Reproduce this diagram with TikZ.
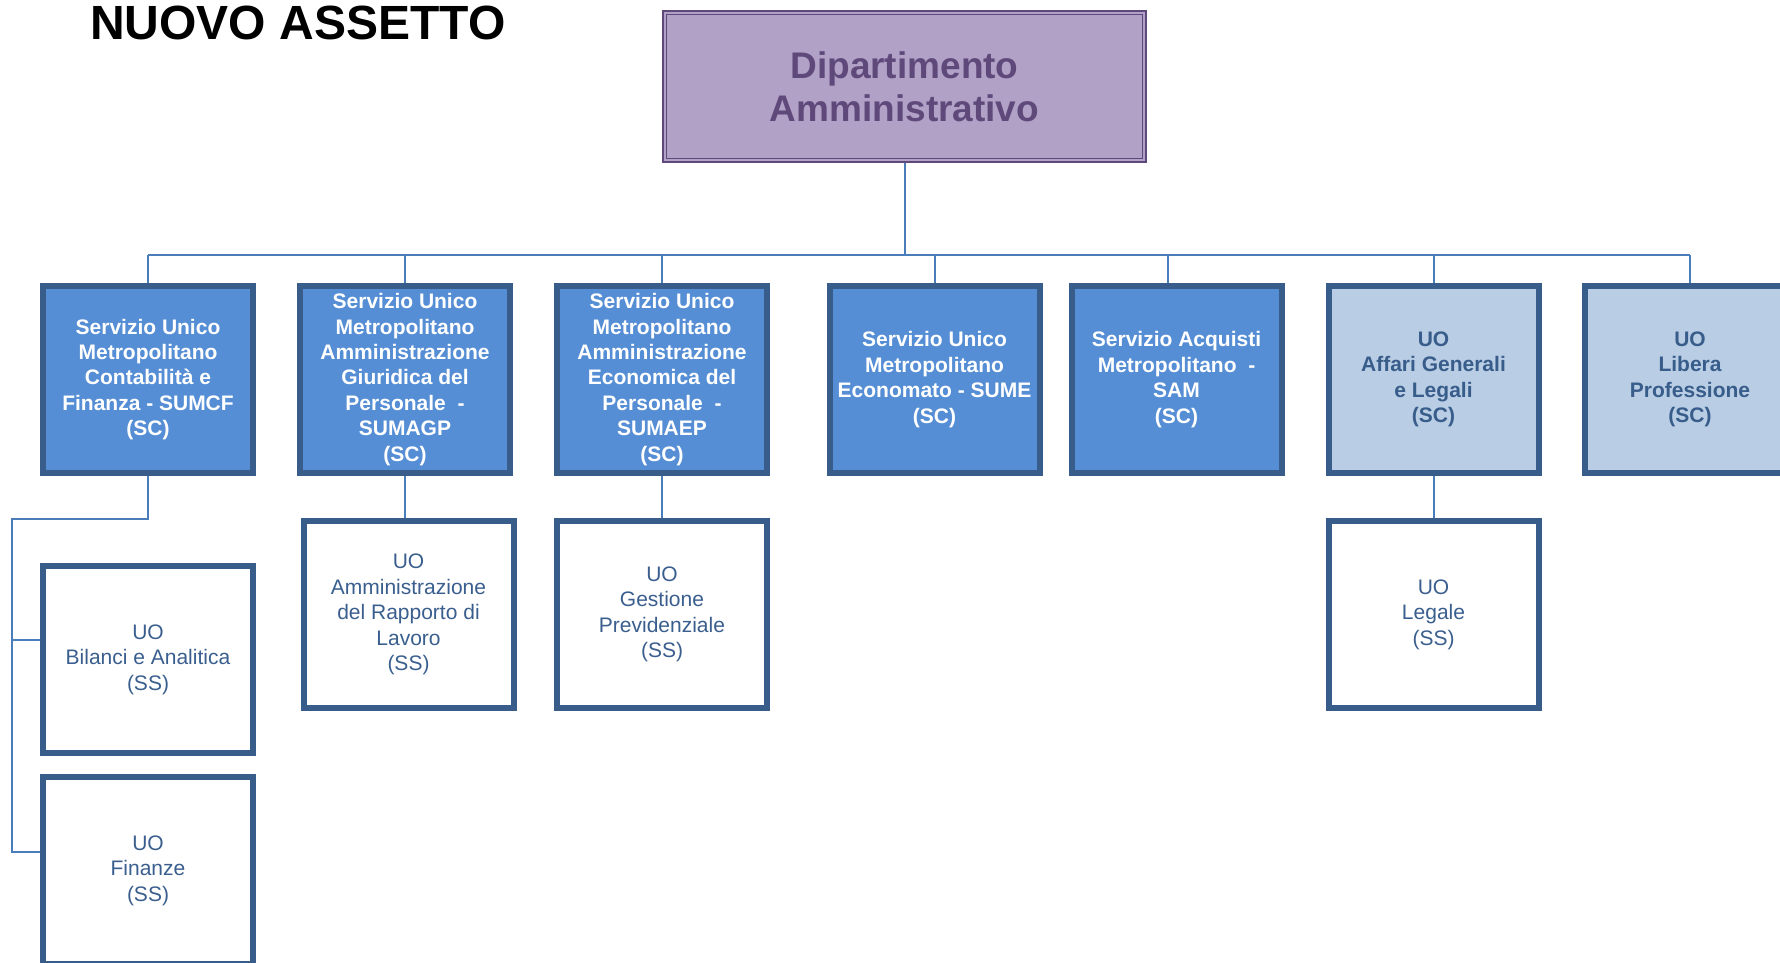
\documentclass[tikz,border=0pt]{standalone}
\usepackage{fontspec}
\setmainfont{Liberation Sans}
\usetikzlibrary{calc,backgrounds}
\definecolor{conn}{HTML}{4A7EBB}
\definecolor{bord}{HTML}{385D8A}
\definecolor{scfill}{HTML}{558ED5}
\definecolor{lightfill}{HTML}{B9CDE5}
\definecolor{deptfill}{HTML}{B2A1C7}
\definecolor{deptline}{HTML}{5F497A}
\definecolor{sstext}{HTML}{3A5F8E}
\begin{document}
\begin{tikzpicture}[x=1pt,y=-1pt,
  box/.style={draw=bord, line width=6pt, minimum width=210pt, minimum height=187pt, inner sep=0pt, align=center},
  scbox/.style={box, fill=scfill, text=white, font=\fontsize{21}{25.4}\selectfont\bfseries},
  lightbox/.style={box, fill=lightfill, text=bord, font=\fontsize{21}{25.4}\selectfont\bfseries},
  ssbox/.style={box, fill=white, text=sstext, font=\fontsize{21}{25.4}\selectfont},
  dept/.style={draw=deptline, double=deptfill, double distance=2pt, line width=1.7pt, fill=deptfill, minimum width=479.6pt, minimum height=147.6pt, inner sep=0pt, align=center, text=deptline, font=\fontsize{37}{43}\selectfont\bfseries},
  link/.style={draw=conn, line width=2pt},
  titletext/.style={inner sep=0pt, anchor=base west, font=\fontsize{48}{56}\selectfont\bfseries}
]
\useasboundingbox (0,0) rectangle (1780,962);

\node[titletext] (title) at (90,39.5) {NUOVO ASSETTO};
\node[dept] (dept) at (904.5,86.5) {Dipartimento\\Amministrativo};

\node[scbox] (b1) at (148,379.5) {Servizio Unico\\Metropolitano\\Contabilità e\\Finanza - SUMCF\\(SC)};
\node[scbox] (b2) at (405,379.5) {Servizio Unico\\Metropolitano\\Amministrazione\\Giuridica del\\Personale\ \ -\\SUMAGP\\(SC)};
\node[scbox] (b3) at (662,379.5) {Servizio Unico\\Metropolitano\\Amministrazione\\Economica del\\Personale\ \ -\\SUMAEP\\(SC)};
\node[scbox] (b4) at (934.5,379.5) {Servizio Unico\\Metropolitano\\Economato - SUME\\(SC)};
\node[scbox] (b5) at (1176.5,379.5) {Servizio Acquisti\\Metropolitano\ \ -\\SAM\\(SC)};
\node[lightbox] (b6) at (1433.5,379.5) {UO\\Affari Generali\\e Legali\\(SC)};
\node[lightbox] (b7) at (1690,379.5) {UO\\Libera\\Professione\\(SC)};

\node[ssbox] (bil) at (148,659.5) {UO\\Bilanci e Analitica\\(SS)};
\node[ssbox] (fin) at (148,870.5) {UO\\Finanze\\(SS)};
\node[ssbox] (adm) at (408.5,614.5) {UO\\Amministrazione\\del Rapporto di\\Lavoro\\(SS)};
\node[ssbox] (ges) at (662,614.5) {UO\\Gestione\\Previdenziale\\(SS)};
\node[ssbox] (leg) at (1433.5,614.5) {UO\\Legale\\(SS)};

\begin{scope}[on background layer]
\fill[white] (0,0) rectangle (1780,962);
\coordinate (busL) at (148,255);
\coordinate (busR) at (1690,255);
\coordinate (c5) at (1168,255);
\draw[link] (dept.south) -- (dept.south |- busL);
\draw[link] (busL) -- (busR);
\foreach \n in {b1,b2,b3,b4,b6,b7} \draw[link] (\n.north |- busL) -- (\n.north);
\draw[link] (c5) -- (c5 |- b5.north);
\draw[link] (b2.south) -- (b2.south |- adm.north);
\draw[link] (b3.south) -- (ges.north);
\draw[link] (b6.south) -- (leg.north);
\coordinate (lt) at (12,519);
\coordinate (kb) at (12,640);
\coordinate (kf) at (12,852);
\draw[link] (b1.south) |- (lt) -- (kf) -- (kf -| fin.west);
\draw[link] (kb) -- (kb -| bil.west);
\end{scope}
\end{tikzpicture}
\end{document}
